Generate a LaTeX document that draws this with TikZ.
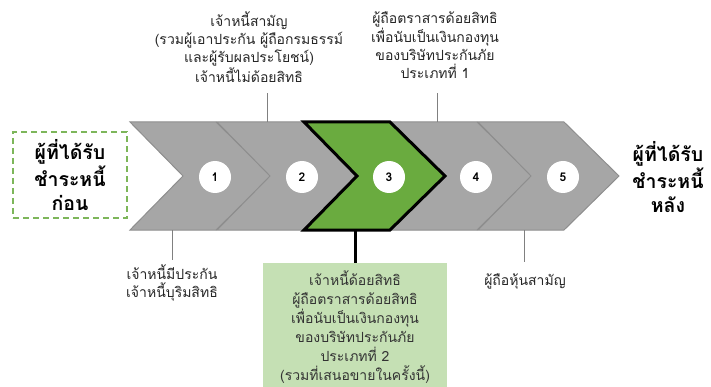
\documentclass[tikz,border=0pt]{standalone}
\usepackage{fontspec}
\newfontfamily\thai[Script=Thai]{Loma}
\definecolor{chevgray}{HTML}{A6A6A6}
\definecolor{chevedge}{HTML}{8E8E8E}
\definecolor{leafgreen}{HTML}{6AAB3F}
\definecolor{palegreen}{HTML}{C5E0B4}
\definecolor{dashgreen}{HTML}{7DB65A}

\begin{document}
\begin{tikzpicture}[x=1pt,y=-1pt,
	num/.style={circle,fill=white,minimum size=32pt,inner sep=0pt,font=\thai\bfseries\fontsize{12}{14}\selectfont},
	lbl/.style={align=center,font=\thai\fontsize{14}{18}\selectfont,text=black!85},
	side/.style={align=center,font=\thai\bfseries\fontsize{19.5}{24}\selectfont},
	link/.style={draw=gray,line width=0.8pt}]
	\useasboundingbox (0,0) rectangle (711,387);
	% chevrons
	\foreach \i in {1,...,5}{
		\pgfmathsetmacro\xa{130+87*(\i-1)}
		\draw[chevedge,fill=chevgray,line width=1pt]
			(\xa,122) -- ++(86,0) -- ++(55,54) -- ++(-55,54) -- ++(-86,0) -- ++(53,-54) -- cycle;
	}
	\draw[fill=leafgreen,line width=3pt]
		(304,122) -- ++(86,0) -- ++(55,54) -- ++(-55,54) -- ++(-86,0) -- ++(53,-54) -- cycle;
	\foreach \i in {1,...,5}{
		\pgfmathsetmacro\xc{215+87*(\i-1)}
		\node[num] (c\i) at (\xc,177) {\i};
	}
	% before / after
	\node[side,draw=dashgreen,dash pattern=on 6pt off 4pt,line width=1.5pt,minimum width=114,minimum height=86] (first) at (70,175)
		{ผู้ที่ได้รับ\\ชำระหนี้\\ก่อน};
	\node[side] (last) at (668,177) {ผู้ที่ได้รับ\\ชำระหนี้\\หลัง};
	% labels above
	\node[lbl] (top1) at (249,47) {เจ้าหนี้สามัญ\\(รวมผู้เอาประกัน ผู้ถือกรมธรรม์\\และผู้รับผลประโยชน์)\\เจ้าหนี้ไม่ด้อยสิทธิ};
	\node[lbl] (top2) at (435,45) {ผู้ถือตราสารด้อยสิทธิ\\เพื่อนับเป็นเงินกองทุน\\ของบริษัทประกันภัย\\ประเภทที่ 1};
	\coordinate (t2) at (267,122);
	\coordinate (t2end) at (267,93);
	\coordinate (t4) at (437,122);
	\coordinate (t4end) at (437,93);
	\draw[link] (t2) -- (t2end);
	\draw[link] (t4) -- (t4end);
	% labels below
	\node[lbl] (bot1) at (172,283) {เจ้าหนี้มีประกัน\\เจ้าหนี้บุริมสิทธิ};
	\node[lbl,fill=palegreen,minimum width=184,inner ysep=7pt,anchor=north,text=black!80,
		font=\thai\fontsize{14}{19}\selectfont] (bot3) at (355,263)
		{เจ้าหนี้ด้อยสิทธิ\\ผู้ถือตราสารด้อยสิทธิ\\เพื่อนับเป็นเงินกองทุน\\ของบริษัทประกันภัย\\ประเภทที่ 2\\(รวมที่เสนอขายในครั้งนี้)};
	\node[lbl] (bot5) at (525,281) {ผู้ถือหุ้นสามัญ};
	\coordinate (b1) at (172,230);
	\coordinate (b1end) at (172,260);
	\coordinate (b3) at (355,230);
	\coordinate (b5) at (524,230);
	\coordinate (b5end) at (524,262);
	\draw[link] (b1) -- (b1end);
	\draw[line width=3pt] (b3) -- (bot3.north);
	\draw[link] (b5) -- (b5end);
\end{tikzpicture}
\end{document}
